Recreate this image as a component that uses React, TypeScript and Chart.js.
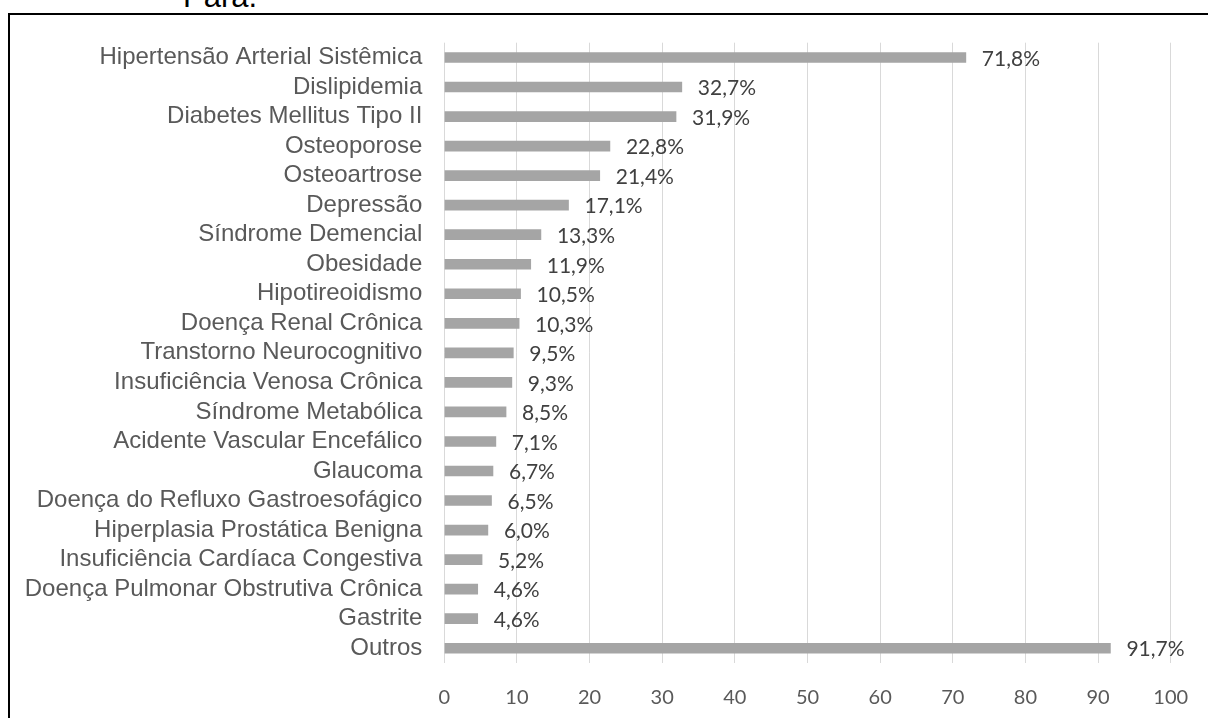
import React, { useEffect, useRef } from "react";
import { Chart, registerables } from "chart.js";

Chart.register(...registerables);

const categories = [
  "Hipertensão Arterial Sistêmica",
  "Dislipidemia",
  "Diabetes Mellitus Tipo II",
  "Osteoporose",
  "Osteoartrose",
  "Depressão",
  "Síndrome Demencial",
  "Obesidade",
  "Hipotireoidismo",
  "Doença Renal Crônica",
  "Transtorno Neurocognitivo",
  "Insuficiência Venosa Crônica",
  "Síndrome Metabólica",
  "Acidente Vascular Encefálico",
  "Glaucoma",
  "Doença do Refluxo Gastroesofágico",
  "Hiperplasia Prostática Benigna",
  "Insuficiência Cardíaca Congestiva",
  "Doença Pulmonar Obstrutiva Crônica",
  "Gastrite",
  "Outros",
];

const values = [71.8, 32.7, 31.9, 22.8, 21.4, 17.1, 13.3, 11.9, 10.5, 10.3, 9.5, 9.3, 8.5, 7.1, 6.7, 6.5, 6.0, 5.2, 4.6, 4.6, 91.7];

const xMin = 0;
const xMax = 100;
const xStep = 10;

const valueLabelPlugin = {
  id: "valueLabels",
  afterDatasetsDraw(chart: any) {
    const ctx = chart.ctx;
    const meta = chart.getDatasetMeta(0);
    ctx.save();
    ctx.font = "21px Lato";
    ctx.fillStyle = "#404040";
    ctx.textAlign = "left";
    ctx.textBaseline = "middle";
    meta.data.forEach((el: any, i: number) => {
      const txt = values[i].toFixed(1).replace(".", ",") + "%";
      ctx.fillText(txt, el.x + 16, el.y + 1.5);
    });
    ctx.restore();
  },
};

export default function App() {
  const ref = useRef<HTMLCanvasElement | null>(null);
  useEffect(() => {
    if (!ref.current) return;
    const chart = new Chart(ref.current, {
      type: "bar",
      data: {
        labels: categories,
        datasets: [
          {
            data: values,
            backgroundColor: "#a5a5a5",
            barThickness: 10,
          },
        ],
      },
      options: {
        indexAxis: "y",
        responsive: false,
        animation: false,
        devicePixelRatio: 1,
        layout: { padding: { top: 42.7, right: 37.3, left: 0, bottom: 0 } },
        plugins: { legend: { display: false }, tooltip: { enabled: false } },
        scales: {
          x: {
            min: xMin,
            max: xMax,
            ticks: {
              stepSize: xStep,
              color: "#595959",
              font: { family: "Lato", size: 20 },
              padding: 23,
            },
            grid: { color: "#d9d9d9", lineWidth: 1, drawTicks: false },
            border: { display: false },
            afterFit: (s: any) => {
              s.height = 55;
              s.paddingLeft = 0;
              s.paddingRight = 0;
            },
          },
          y: {
            ticks: {
              color: "#595959",
              font: { family: "Liberation Sans", size: 24 },
              padding: 22,
              autoSkip: false,
            },
            grid: { display: false, drawTicks: false },
            border: { display: false },
            afterFit: (s: any) => {
              s.width = 444.3;
              s.paddingTop = 0;
              s.paddingBottom = 0;
            },
          },
        },
      },
      plugins: [valueLabelPlugin],
    });
    return () => chart.destroy();
  }, []);

  return (
    <div style={{ position: "absolute", left: 0, top: 0, width: 1208, height: 718, overflow: "hidden", background: "#fff" }}>
      <div
        style={{
          position: "absolute",
          left: 183,
          top: -20,
          fontFamily: "Liberation Sans",
          fontSize: 31,
          lineHeight: "34px",
          color: "#000",
        }}
      >
        Pará.
      </div>
      <div
        style={{
          position: "absolute",
          left: 8,
          top: 13,
          width: 1400,
          height: 900,
          border: "2px solid #000",
        }}
      />
      <canvas ref={ref} width={1208} height={718} style={{ position: "absolute", left: 0, top: 0 }} />
    </div>
  );
}
